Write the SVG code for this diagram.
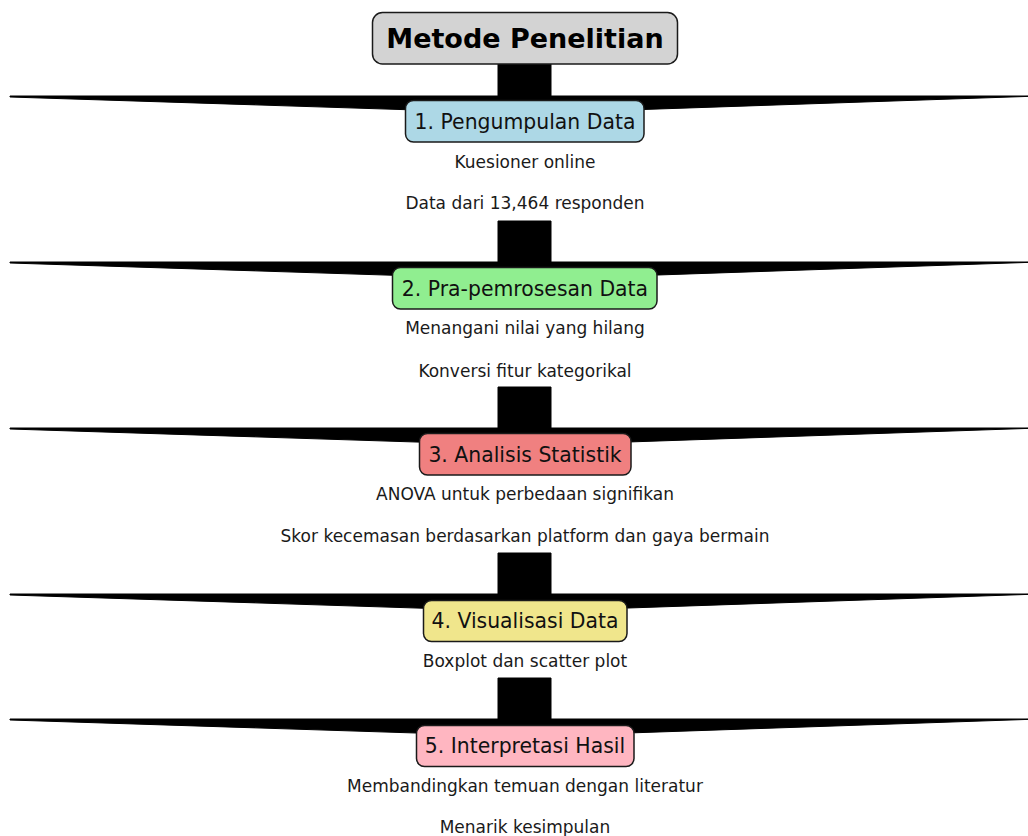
<svg xmlns="http://www.w3.org/2000/svg" width="1028" height="836" viewBox="0 0 1028 836">
<style>
.box{stroke:#1a1a1a;stroke-width:1.5}
.lbl{font-family:"DejaVu Sans",sans-serif;font-size:20.4px;fill:#111;text-anchor:middle}
.ttl{font-family:"DejaVu Sans",sans-serif;font-size:27px;font-weight:bold;fill:#000;text-anchor:middle}
.sub{font-family:"DejaVu Sans",sans-serif;font-size:17px;fill:#1a1a1a;text-anchor:middle}
.arr{fill:#000;stroke:#000;stroke-width:1;stroke-linejoin:miter}
</style>
<defs>
<path id="arrowShape" d="M498,0 L551,0 L551,41 L1040,41 L525,58.5 L10,42 L10,41 L498,41 Z"/>
</defs>
<rect width="1028" height="836" fill="#fff"/>
<g id="connectors">
<use href="#arrowShape" class="arr" transform="translate(0,55)"/>
<use href="#arrowShape" class="arr" transform="translate(0,221)"/>
<use href="#arrowShape" class="arr" transform="translate(0,387)"/>
<use href="#arrowShape" class="arr" transform="translate(0,553)"/>
<use href="#arrowShape" class="arr" transform="translate(0,678)"/>
</g>
<g id="title">
<rect class="box" x="372.5" y="12.5" width="305" height="51.5" rx="10" fill="#d3d3d3"/>
<text class="ttl" x="525" y="47.5">Metode Penelitian</text>
</g>
<g id="step1">
<rect class="box" x="405.5" y="100.5" width="238.5" height="41.5" rx="8" fill="#add8e6"/>
<text class="lbl" x="525" y="128.5">1. Pengumpulan Data</text>
<text class="sub" x="525" y="168">Kuesioner online</text>
<text class="sub" x="525" y="209">Data dari 13,464 responden</text>
</g>
<g id="step2">
<rect class="box" x="392.5" y="267.5" width="264.5" height="41.5" rx="8" fill="#90ee90"/>
<text class="lbl" x="525" y="295.5">2. Pra-pemrosesan Data</text>
<text class="sub" x="525" y="334">Menangani nilai yang hilang</text>
<text class="sub" x="525" y="377">Konversi fitur kategorikal</text>
</g>
<g id="step3">
<rect class="box" x="419.5" y="433.5" width="211.5" height="41.5" rx="8" fill="#f08080"/>
<text class="lbl" x="525" y="461.5">3. Analisis Statistik</text>
<text class="sub" x="525" y="500">ANOVA untuk perbedaan signifikan</text>
<text class="sub" x="525" y="542">Skor kecemasan berdasarkan platform dan gaya bermain</text>
</g>
<g id="step4">
<rect class="box" x="423.5" y="600.5" width="203.5" height="41" rx="8" fill="#f0e68c"/>
<text class="lbl" x="525" y="627.5">4. Visualisasi Data</text>
<text class="sub" x="525" y="667">Boxplot dan scatter plot</text>
</g>
<g id="step5">
<rect class="box" x="416.5" y="725.5" width="217.5" height="41" rx="8" fill="#ffb6c1"/>
<text class="lbl" x="525" y="752.5">5. Interpretasi Hasil</text>
<text class="sub" x="525" y="792">Membandingkan temuan dengan literatur</text>
<text class="sub" x="525" y="833">Menarik kesimpulan</text>
</g>
</svg>
